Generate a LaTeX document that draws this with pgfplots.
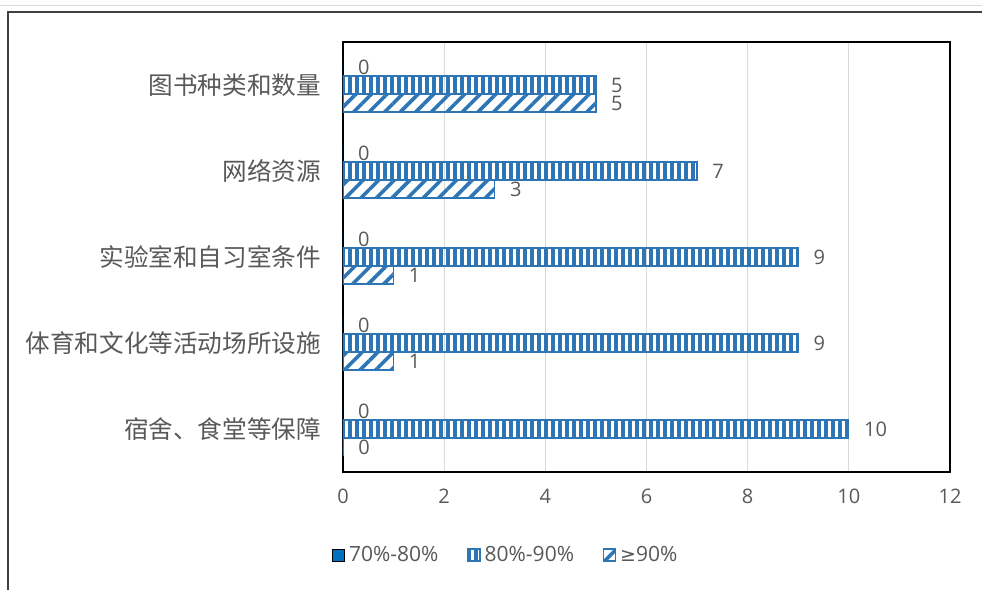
\documentclass[border=0pt]{standalone}
\usepackage{pgfplots}
\pgfplotsset{compat=1.18}
\usetikzlibrary{patterns.meta}
\usepackage{fontspec}
\setmainfont{Open Sans}
\newfontfamily\cjk{Noto Sans CJK SC}
\newfontfamily\sym{DejaVu Sans}
\definecolor{barblue}{HTML}{2E75B6}
\definecolor{solidblue}{HTML}{0070C0}
\definecolor{txt}{HTML}{595959}
\definecolor{gridc}{HTML}{D9D9D9}

\begin{document}
\begin{tikzpicture}
\useasboundingbox (0,0) rectangle (491pt,295pt);
% spreadsheet frame behind the chart
\draw[gray!30, line width=0.5pt] (0,292pt) -- (491pt,292pt);
\draw[black!75, line width=1.1pt] (4pt,-5pt) -- (4pt,289pt) -- (500pt,289pt);

\begin{axis}[
    at={(171.5pt,59pt)}, anchor=south west,
    scale only axis,
    width=303.5pt, height=215pt,
    xbar,
    bar width=9pt,
    xmin=0, xmax=12,
    ymin=-0.5, ymax=4.5,
    xtick={0,2,...,12},
    ytick={0,...,4},
    yticklabels={宿舍、食堂等保障,体育和文化等活动场所设施,实验室和自习室条件,网络资源,图书种类和数量},
    xmajorgrids,
    major grid style={gridc, line width=0.6pt},
    major tick length=0pt,
    axis line style={black, line width=0.8pt},
    /pgf/number format/assume math mode=true,
    xticklabel style={font=\fontsize{10}{12}\selectfont, text=txt, yshift=-5pt},
    yticklabel style={font=\cjk\fontsize{12.3}{14}\selectfont, text=txt, xshift=-7.5pt},
    nodes near coords,
    nodes near coords style={font=\fontsize{10}{12}\selectfont, text=txt, xshift=4pt},
    legend columns=3,
    legend style={at={(0.27,-0.193)}, anchor=center, draw=none,
        font=\fontsize{10.5}{12}\selectfont, text=txt,
        nodes={inner sep=2pt},
        /tikz/every even column/.append style={column sep=12.5pt}},
    legend image code/.code={\draw[#1] (0pt,-3pt) rectangle (6pt,3pt);},
]
\addplot[fill=solidblue, draw=none, bar shift=9pt]
    coordinates {(0,4) (0,3) (0,2) (0,1) (0,0)};
\addlegendentry{70\%-80\%}
\addplot[draw=barblue, line width=0.6pt, bar shift=0pt,
    pattern={Lines[angle=90, distance=3.5pt, line width=1.9pt]}, pattern color=barblue]
    coordinates {(5,4) (7,3) (9,2) (9,1) (10,0)};
\addlegendentry{80\%-90\%}
\addplot[draw=barblue, line width=0.6pt, bar shift=-9pt,
    pattern={Lines[angle=45, distance=5.5pt, line width=1.8pt]}, pattern color=barblue]
    coordinates {(5,4) (3,3) (1,2) (1,1) (0,0)};
\addlegendentry{{\sym\fontsize{9.5}{12}\selectfont ≥}90\%}
\end{axis}
\end{tikzpicture}
\end{document}
